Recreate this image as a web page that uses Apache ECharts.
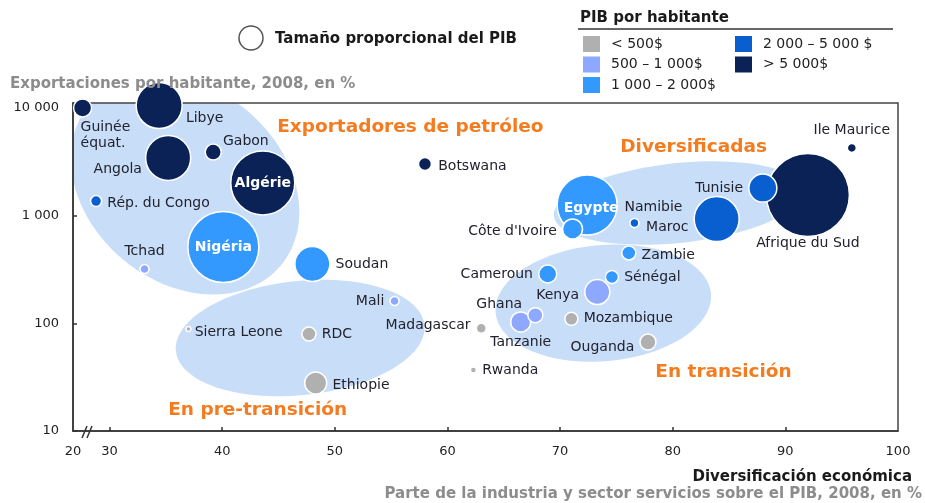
<!DOCTYPE html>
<html>
<head>
<meta charset="utf-8">
<script src="https://cdn.jsdelivr.net/npm/echarts@6/dist/echarts.min.js"></script>
<style>
  html, body { margin: 0; padding: 0; background: #fff; }
  #main { width: 925px; height: 503px; }
</style>
</head>
<body>
<div id="main"></div>
<script>
const FONT = '"DejaVu Sans", sans-serif';

// clases de PIB por habitante
const clases = ['< 500$', '500 – 1 000$', '1 000 – 2 000$', '2 000 – 5 000 $', '> 5 000$'];
const colores = ['#b0b0b0', '#8fa8ff', '#3399ff', '#0a5fd0', '#0a2256'];

// países
const paises = ['Guinée équat.', 'Libye', 'Angola', 'Gabon', 'Algérie', 'Rép. du Congo', 'Nigéria', 'Tchad',
  'Soudan', 'Botswana', 'Egypte', "Côte d'Ivoire", 'Cameroun', 'Ile Maurice', 'Afrique du Sud', 'Tunisie',
  'Maroc', 'Namibie', 'Zambie', 'Sénégal', 'Kenya', 'Ghana', 'Tanzanie', 'Mozambique', 'Ouganda',
  'Madagascar', 'Rwanda', 'Mali', 'RDC', 'Ethiopie', 'Sierra Leone'];
const diversificacion = [27.6, 34.4, 35.2, 39.2, 43.6, 28.8, 40.1, 33.1,
  48.0, 58.0, 72.4, 71.1, 68.9, 95.9, 92.0, 88.0,
  83.9, 76.6, 76.1, 74.6, 73.3, 67.8, 66.5, 71.0, 77.8,
  63.0, 62.3, 55.3, 47.7, 48.3, 37.0];
const exportaciones = [10000, 10500, 3430, 3890, 2010, 1365, 511, 319,
  355, 3010, 1254, 752, 287, 4250, 1553, 1803,
  929, 853, 450, 269, 195, 119, 103, 110, 67,
  90, 36.8, 161, 79.5, 27.9, 88.5];
// tamaño proporcional del PIB (diámetro relativo)
const tamanoPib = [18, 46, 45, 16, 64, 11, 71, 9,
  35, 13, 60, 20, 18, 9, 83, 28,
  45, 9, 14, 13, 25, 15, 20, 13, 16,
  10, 6, 9, 14, 22, 5];
const clasePib = [4, 4, 4, 4, 4, 3, 2, 1,
  2, 4, 2, 2, 2, 4, 4, 3,
  3, 3, 2, 2, 1, 1, 1, 0, 0,
  0, 0, 1, 0, 0, 0];

// grupos: centro, radios (unidades x, décadas), rotación
const grupos = ['Exportadores de petróleo', 'Diversificadas', 'En transición', 'En pre-transición'];
const grupoX = [36.7, 80.49, 73.83, 46.92];
const grupoY = [1920, 1309, 154, 73];
const grupoRx = [11.1, 11.1, 9.6, 11.1];
const grupoRy = [0.90, 0.37, 0.54, 0.53];
const grupoRot = [40, -6, -5, -6];
const tituloX = [44.88, 75.34, 78.45, 35.2];
const tituloY = [6650, 4335, 35.3, 15.7];

const xTicks = [30, 40, 50, 60, 70, 80, 90];
const yTicks = [10, 100, 1000, 10000];

// etiquetas de los países
const etiquetas = {
  'Guinée équat.': { position: 'bottom', align: 'left', offset: [-2, -3], formatter: 'Guinée\néquat.', lineHeight: 16 },
  'Libye': { position: 'right', offset: [-2, 13] },
  'Angola': { position: 'left', offset: [2, 11] },
  'Gabon': { position: 'right', offset: [-4, -11] },
  'Algérie': { position: 'inside', color: '#fff', fontWeight: 'bold' },
  'Rép. du Congo': { position: 'right', offset: [0, 2] },
  'Nigéria': { position: 'inside', color: '#fff', fontWeight: 'bold' },
  'Tchad': { position: 'top' },
  'Soudan': { position: 'right' },
  'Botswana': { position: 'right', offset: [1, 2] },
  'Egypte': { position: 'inside', color: '#fff', fontWeight: 'bold', offset: [4, 3] },
  "Côte d'Ivoire": { position: 'left', offset: [0, 2] },
  'Cameroun': { position: 'left' },
  'Ile Maurice': { position: 'top' },
  'Afrique du Sud': { position: 'bottom', offset: [0, -6] },
  'Tunisie': { position: 'left' },
  'Maroc': { position: 'left', offset: [0, 8] },
  'Namibie': { position: 'top', offset: [19, 2] },
  'Zambie': { position: 'right', offset: [0, 2] },
  'Sénégal': { position: 'right' },
  'Kenya': { position: 'left', offset: [0, 3] },
  'Ghana': { position: 'left', offset: [0, -11] },
  'Tanzanie': { position: 'bottom', offset: [0, -2] },
  'Mozambique': { position: 'right' },
  'Ouganda': { position: 'left', offset: [0, 5] },
  'Madagascar': { position: 'left', offset: [0, -3] },
  'Rwanda': { position: 'right' },
  'Mali': { position: 'left' },
  'RDC': { position: 'right' },
  'Ethiopie': { position: 'right', offset: [0, 2] },
  'Sierra Leone': { position: 'right', offset: [-2, 3] }
};

const burbujas = paises.map((n, i) => ({
  name: n,
  value: [diversificacion[i], exportaciones[i], tamanoPib[i]],
  itemStyle: { color: colores[clasePib[i]], opacity: 1 },
  label: Object.assign({ show: true, formatter: n, color: '#22222e', fontSize: 14, fontFamily: FONT }, etiquetas[n])
})).sort((a, b) => b.value[2] - a.value[2]);

function miles(v) {
  return String(Math.round(v)).replace(/\B(?=(\d{3})+(?!\d))/g, ' ');
}

const chart = echarts.init(document.getElementById('main'));

const leyendaBase = {
  orient: 'vertical', padding: 0, itemWidth: 17, itemHeight: 16, itemGap: 4.5,
  icon: 'rect', selectedMode: false,
  textStyle: { fontSize: 14, fontFamily: FONT, color: '#222', padding: [0, 0, 0, 6] }
};

const tituloEstilo = (color) => ({ fontFamily: FONT, fontSize: 15, fontWeight: 'bold', color: color });

const option = {
  animation: false,
  title: [
    { text: 'Exportaciones por habitante, 2008, en %', left: 10, top: 77, padding: 0, textStyle: tituloEstilo('#8c8c8c') },
    { text: 'Tamaño proporcional del PIB', left: 275, top: 32, padding: 0, textStyle: tituloEstilo('#1a1a1a') },
    { text: 'PIB por habitante', left: 580, top: 11, padding: 0, textStyle: tituloEstilo('#1a1a1a') },
    { text: 'Diversificación económica', right: 13, top: 470, padding: 0, textStyle: tituloEstilo('#1a1a1a') },
    { text: 'Parte de la industria y sector servicios sobre el PIB, 2008, en %', right: 3, top: 487, padding: 0,
      textStyle: tituloEstilo('#8c8c8c') }
  ],
  legend: [
    Object.assign({ data: clases.slice(0, 3), left: 583, top: 36 }, leyendaBase),
    Object.assign({ data: clases.slice(3), left: 735, top: 36 }, leyendaBase)
  ],
  grid: { left: 73, right: 27, top: 103, bottom: 72, show: true, z: 2,
    borderColor: '#444', borderWidth: 1.5, backgroundColor: 'transparent' },
  xAxis: {
    type: 'value', min: 26.75, max: 100, z: 2,
    axisLine: { lineStyle: { color: '#333', width: 1.5 } },
    axisTick: { inside: true, length: 4, customValues: xTicks, lineStyle: { color: '#333', width: 1.5 } },
    axisLabel: { customValues: [26.75].concat(xTicks, [100]), margin: 14,
      formatter: v => (v < 29 ? '20' : String(Math.round(v))),
      fontFamily: FONT, fontSize: 13, color: '#222' },
    splitLine: { show: false }
  },
  yAxis: {
    type: 'log', logBase: 10, min: 10, max: 11100, z: 2,
    axisLine: { lineStyle: { color: '#333', width: 1.5 } },
    axisTick: { inside: true, length: 4, customValues: yTicks, lineStyle: { color: '#333', width: 1.5 } },
    axisLabel: { customValues: yTicks, margin: 14, formatter: miles,
      fontFamily: FONT, fontSize: 13, color: '#222' },
    splitLine: { show: false }
  },
  graphic: [
    { type: 'circle', shape: { cx: 251, cy: 38, r: 12 }, style: { fill: '#fff', stroke: '#555', lineWidth: 1.5 } },
    { type: 'line', shape: { x1: 578, y1: 29, x2: 893, y2: 29 }, style: { stroke: '#333', lineWidth: 1.5 } },
    { type: 'line', z: 20, shape: { x1: 82, y1: 438, x2: 87, y2: 426 }, style: { stroke: '#333', lineWidth: 1.5 } },
    { type: 'line', z: 20, shape: { x1: 87, y1: 438, x2: 92, y2: 426 }, style: { stroke: '#333', lineWidth: 1.5 } }
  ],
  series: [
    {
      type: 'custom', name: 'grupos', z: 1, clip: true, silent: true,
      data: grupos.map((g, i) => [grupoX[i], grupoY[i], grupoRx[i], grupoRy[i], grupoRot[i]]),
      renderItem: function (params, api) {
        const cx = api.value(0), cy = api.value(1);
        const c = api.coord([cx, cy]);
        const a = api.coord([cx + api.value(2), cy])[0] - c[0];
        const b = c[1] - api.coord([cx, cy * Math.pow(10, api.value(3))])[1];
        const r = api.value(4) * Math.PI / 180;
        const pts = [];
        for (let k = 0; k < 96; k++) {
          const t = k / 96 * Math.PI * 2;
          const x = a * Math.cos(t), y = b * Math.sin(t);
          pts.push([c[0] + x * Math.cos(r) - y * Math.sin(r), c[1] + x * Math.sin(r) + y * Math.cos(r)]);
        }
        return { type: 'polygon', shape: { points: pts }, style: { fill: '#c8def8' } };
      }
    },
    {
      type: 'scatter', name: 'paises', z: 3, silent: true,
      symbolSize: v => v[2],
      itemStyle: { borderColor: '#fff', borderWidth: 1.5, opacity: 1 },
      data: burbujas
    },
    {
      type: 'custom', name: 'titulos', z: 4, silent: true,
      data: grupos.map((g, i) => [tituloX[i], tituloY[i]]),
      renderItem: function (params, api) {
        const p = api.coord([api.value(0), api.value(1)]);
        return { type: 'text', x: p[0], y: p[1],
          style: { text: grupos[params.dataIndex], fill: '#f47c20', font: 'bold 18.5px "DejaVu Sans", sans-serif',
            align: 'left', verticalAlign: 'middle' } };
      }
    }
  ].concat(clases.map((c, i) => ({ type: 'scatter', name: c, data: [], itemStyle: { color: colores[i], opacity: 1 } })))
};

chart.setOption(option);
</script>
</body>
</html>
